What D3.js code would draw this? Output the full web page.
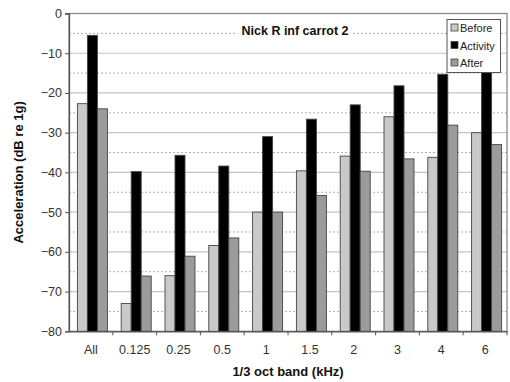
<!DOCTYPE html>
<html><head><meta charset="utf-8">
<script src="https://cdn.jsdelivr.net/npm/d3@7/dist/d3.min.js"></script>
<style>body{margin:0;background:#fff}svg{display:block}text{font-family:"Liberation Sans",Arial,sans-serif}</style>
</head><body><svg id="c" width="510" height="382"></svg>
<script>
const categories = ["All","0.125","0.25","0.5","1","1.5","2","3","4","6"];
const before   = [-22.7,-73,-66,-58.4,-50,-39.6,-35.9,-26,-36.2,-30];
const activity = [-5.5,-39.8,-35.7,-38.4,-31,-26.6,-23,-18.2,-15.3,-13];
const after    = [-24,-66.1,-61.1,-56.5,-50,-45.8,-39.7,-36.6,-28.1,-33];
const seriesNames = ["Before","Activity","After"];
const seriesColors = ["#c9c9c9","#000000","#9b9b9b"];
const yTicks = [0,-10,-20,-30,-40,-50,-60,-70,-80];
const yMinor = [-5,-15,-25,-35,-45,-55,-65,-75];

const svg = d3.select("#c");
const L=69, R=507, T=13.5, B=331.3;
const x = d3.scaleBand().domain(categories).range([L,R]);
const y = d3.scaleLinear().domain([-80,0]).range([B,T]);
const inner = d3.scaleBand().domain(seriesNames).range([0,30]);
const groupOffset = (x.bandwidth()-30)/2 + 1.5;

// gridlines
svg.append("g").selectAll("line").data(yTicks.slice(1,-1)).join("line")
  .attr("x1",L).attr("x2",R).attr("y1",d=>y(d)).attr("y2",d=>y(d))
  .attr("stroke","#c4c4c4").attr("stroke-width",1.2);
svg.append("g").selectAll("line").data(yMinor).join("line")
  .attr("x1",L).attr("x2",R).attr("y1",d=>y(d)).attr("y2",d=>y(d))
  .attr("stroke","#b0b0b0").attr("stroke-width",1).attr("stroke-dasharray","2,2");

// frame
svg.append("rect").attr("x",L).attr("y",T).attr("width",R-L).attr("height",B-T)
  .attr("fill","none").attr("stroke","#8a8a8a").attr("stroke-width",1.3);

// title
const title = svg.append("text").attr("x",295).attr("y",35).attr("text-anchor","middle")
  .attr("font-weight","bold").attr("font-size",12.5).attr("fill","#111").text("Nick R inf carrot 2");
const bb = title.node().getBBox();
svg.insert("rect","text").attr("x",bb.x-4).attr("y",bb.y).attr("width",bb.width+8).attr("height",bb.height)
  .attr("fill","#fff");

// bars
const data = [before,activity,after];
const g = svg.append("g");
seriesNames.forEach((s,si)=>{
  g.append("g").selectAll("rect").data(categories).join("rect")
   .attr("x",(c)=>x(c)+groupOffset+inner(s))
   .attr("width",inner.bandwidth())
   .attr("y",(c,i)=>y(data[si][i]))
   .attr("height",(c,i)=>B-y(data[si][i]))
   .attr("fill",seriesColors[si]).attr("stroke","#444").attr("stroke-width",0.9);
});

// axes
const yAxis = d3.axisLeft(y).tickValues(yTicks).tickSize(4).tickPadding(3).tickFormat(d=>d===0?"0":"\u2212"+Math.abs(d));
const ya = svg.append("g").attr("transform",`translate(${L},0)`).call(yAxis);
ya.select(".domain").attr("stroke","#555").attr("stroke-width",1.3);
ya.selectAll(".tick line").attr("stroke","#555");
ya.selectAll("text").attr("font-size",12.5).attr("fill","#333").attr("font-family","Liberation Sans, Arial, sans-serif");

const xa = svg.append("g").attr("transform",`translate(0,${B})`).call(d3.axisBottom(x).tickSize(0).tickPadding(14));
xa.select(".domain").attr("stroke","#555").attr("stroke-width",1.3);
xa.selectAll("text").attr("font-size",12.5).attr("fill","#333").attr("font-family","Liberation Sans, Arial, sans-serif");
// category boundary ticks
svg.append("g").selectAll("line").data(categories.slice(1).concat(["__end"])).join("line")
  .attr("x1",d=>d==="__end"?R:x(d)).attr("x2",d=>d==="__end"?R:x(d))
  .attr("y1",B).attr("y2",B+4).attr("stroke","#555");

// axis labels
svg.append("text").attr("transform",`translate(23,${(T+B)/2}) rotate(-90)`).attr("text-anchor","middle")
  .attr("font-weight","bold").attr("font-size",13).attr("fill","#111").text("Acceleration (dB re 1g)");
svg.append("text").attr("x",288).attr("y",376).attr("text-anchor","middle")
  .attr("font-weight","bold").attr("font-size",13).attr("fill","#111").text("1/3 oct band (kHz)");

// legend
const lg = svg.append("g");
lg.append("rect").attr("x",447).attr("y",19.5).attr("width",53.5).attr("height",53)
  .attr("fill","#fff").attr("stroke","#555").attr("stroke-width",1);
seriesNames.forEach((s,i)=>{
  const yy = 28+i*17.5;
  lg.append("rect").attr("x",451).attr("y",yy-4).attr("width",7).attr("height",7)
    .attr("fill",seriesColors[i]).attr("stroke","#444").attr("stroke-width",0.8);
  lg.append("text").attr("x",460).attr("y",yy+4).attr("font-size",11).attr("fill","#222")
    .attr("textLength",null).text(s);
});
</script></body></html>
